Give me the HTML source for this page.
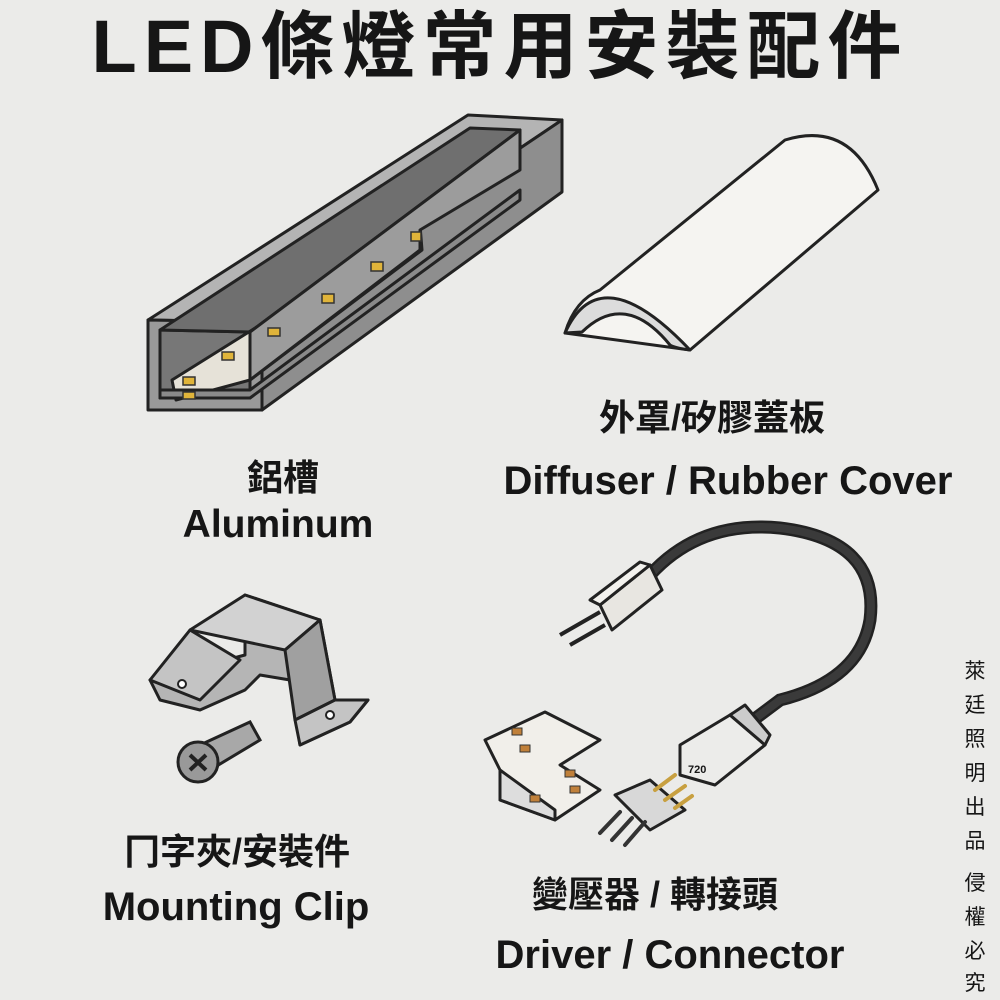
<!DOCTYPE html>
<html><head><meta charset="utf-8"><style>
html,body{margin:0;padding:0;background:#ebebe9;}
svg{display:block}
text{font-family:"Liberation Sans","Noto Sans CJK TC",sans-serif;font-weight:bold;fill:#161616}
</style></head><body>
<svg width="1000" height="1000" viewBox="0 0 1000 1000">
<rect width="1000" height="1000" fill="#ebebe9"/>
<text x="500" y="72" font-size="74" text-anchor="middle" letter-spacing="7">LED條燈常用安裝配件</text>

<!-- Aluminum channel -->
<g stroke="#222" stroke-width="3" stroke-linejoin="round">
<polygon points="148,320 468,115 562,120 262,322" fill="#b4b4b4"/>
<polygon points="262,322 562,120 562,192 262,410" fill="#8e8e8e"/>
<polygon points="148,320 262,322 262,410 148,410" fill="#9a9a9a"/>
<polygon points="160,330 250,332 250,398 160,398" fill="#777"/>
<polygon points="160,330 470,128 520,130 250,332" fill="#6f6f6f"/>
<polygon points="172,380 420,225 422,250 250,380 176,400" fill="#e6e2d8"/>
<polygon points="250,332 520,130 520,170 420,230 420,250 250,380" fill="#9c9c9c"/>
<polygon points="160,398 250,398 520,200 520,190 250,390 160,390" fill="#8a8a8a"/>
</g>
<g fill="#e0b43a" stroke="#333" stroke-width="1.5">
<rect x="183" y="377" width="12" height="8"/><rect x="183" y="392" width="12" height="7"/>
<rect x="222" y="352" width="12" height="8"/><rect x="268" y="328" width="12" height="8"/>
<rect x="322" y="294" width="12" height="9"/><rect x="371" y="262" width="12" height="9"/>
<rect x="411" y="232" width="10" height="9"/>
</g>
<text x="283" y="490" font-size="36" text-anchor="middle">鋁槽</text>
<text x="278" y="537" font-size="39" text-anchor="middle">Aluminum</text>

<!-- Diffuser -->
<g stroke="#222" stroke-width="3" stroke-linejoin="round">
<path d="M565,333 Q575,300 600,290 L785,140 Q850,120 878,190 L690,350 Z" fill="#f5f4f1"/>
<path d="M565,333 Q600,255 690,350 Q675,348 670,345 Q625,290 582,332 Z" fill="#dcdcdc"/>
</g>
<text x="712" y="430" font-size="36" text-anchor="middle">外罩/矽膠蓋板</text>
<text x="728" y="494" font-size="40" text-anchor="middle">Diffuser / Rubber Cover</text>

<!-- Clip -->
<g stroke="#222" stroke-width="3" stroke-linejoin="round">
<polygon points="150,680 245,655 245,595 320,620 335,700 368,700 350,722 300,745 290,680 260,675 245,690 200,710 160,700" fill="#b5b5b5"/>
<polygon points="190,630 245,595 320,620 285,650" fill="#d2d2d2"/>
<polygon points="285,650 320,620 335,700 295,720" fill="#a0a0a0"/>
<polygon points="150,680 190,630 240,660 200,700" fill="#c4c4c4"/>
<polygon points="295,720 335,700 368,700 350,722 300,745" fill="#c4c4c4"/>
</g>
<circle cx="182" cy="684" r="4" fill="#fff" stroke="#222" stroke-width="2"/>
<circle cx="330" cy="715" r="4" fill="#fff" stroke="#222" stroke-width="2"/>
<g stroke="#222" stroke-width="3">
<polygon points="200,745 250,722 260,740 210,770" fill="#a8a8a8"/>
<circle cx="198" cy="762" r="20" fill="#999"/>
<path d="M190,755 L206,770 M206,755 L190,770" stroke-width="4"/>
</g>
<text x="237" y="864" font-size="36" text-anchor="middle">冂字夾/安裝件</text>
<text x="236" y="920" font-size="40" text-anchor="middle">Mounting Clip</text>

<!-- Cable connector -->
<path d="M650,575 Q700,520 780,528 Q880,540 870,620 Q860,680 780,700 L740,730" fill="none" stroke="#222" stroke-width="13"/>
<path d="M650,575 Q700,520 780,528 Q880,540 870,620 Q860,680 780,700 L740,730" fill="none" stroke="#3a3a3a" stroke-width="8"/>
<g stroke="#222" stroke-width="3" stroke-linejoin="round">
<polygon points="600,605 650,565 662,590 612,630" fill="#e8e6e1"/>
<polygon points="600,605 590,600 640,562 650,565" fill="#f3f2ee"/>
<path d="M600,612 L560,635 M605,625 L570,645" stroke-width="4"/>
<polygon points="680,745 730,715 765,745 715,785 680,775" fill="#ececea"/>
<polygon points="730,715 745,705 770,735 765,745" fill="#ccc"/>
</g>
<text x="688" y="773" font-size="11" fill="#222">720</text>
<g stroke="#222" stroke-width="3" stroke-linejoin="round">
<polygon points="485,740 545,712 600,740 560,765 600,790 555,820 500,800 500,770" fill="#f1efea"/>
<polygon points="500,770 500,800 555,820 555,810" fill="#ddd"/>
<polygon points="615,795 650,780 685,810 650,830" fill="#d8d8d8"/>
</g>
<g fill="#c0803a" stroke="#333" stroke-width="1">
<rect x="512" y="728" width="10" height="7"/><rect x="520" y="745" width="10" height="7"/>
<rect x="565" y="770" width="10" height="7"/><rect x="570" y="786" width="10" height="7"/>
<rect x="530" y="795" width="10" height="7"/>
</g>
<g stroke="#333" stroke-width="4" stroke-linecap="round">
<path d="M620,812 L600,833 M632,818 L612,840 M645,822 L625,845"/>
<path d="M655,790 L675,775 M665,800 L685,786 M675,808 L692,796" stroke="#c8a040"/>
</g>
<text x="655" y="907" font-size="36" text-anchor="middle">變壓器 / 轉接頭</text>
<text x="670" y="968" font-size="40" text-anchor="middle">Driver / Connector</text>

<g>
<text x="975" y="678" font-size="21" text-anchor="middle" fill="#a0a0a0" style="font-weight:normal">萊</text>
<text x="975" y="712" font-size="21" text-anchor="middle" fill="#a0a0a0" style="font-weight:normal">廷</text>
<text x="975" y="746" font-size="21" text-anchor="middle" fill="#a0a0a0" style="font-weight:normal">照</text>
<text x="975" y="780" font-size="21" text-anchor="middle" fill="#a0a0a0" style="font-weight:normal">明</text>
<text x="975" y="814" font-size="21" text-anchor="middle" fill="#a0a0a0" style="font-weight:normal">出</text>
<text x="975" y="848" font-size="21" text-anchor="middle" fill="#a0a0a0" style="font-weight:normal">品</text>
<text x="975" y="890" font-size="21" text-anchor="middle" fill="#a0a0a0" style="font-weight:normal">侵</text>
<text x="975" y="924" font-size="21" text-anchor="middle" fill="#a0a0a0" style="font-weight:normal">權</text>
<text x="975" y="958" font-size="21" text-anchor="middle" fill="#a0a0a0" style="font-weight:normal">必</text>
<text x="975" y="990" font-size="21" text-anchor="middle" fill="#a0a0a0" style="font-weight:normal">究</text>
</g>
</svg>
</body></html>
